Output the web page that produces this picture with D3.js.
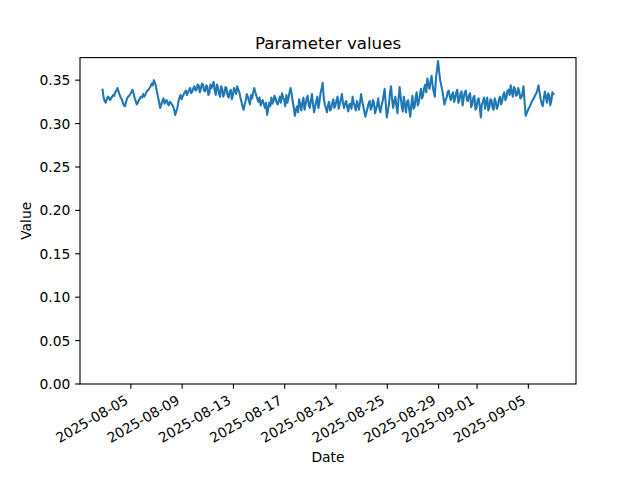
<!DOCTYPE html>
<html><head><meta charset="utf-8">
<script src="https://cdn.jsdelivr.net/npm/d3@7"></script>
<style>body{margin:0;background:#fff}svg{display:block}text{font-family:"DejaVu Sans",sans-serif;fill:#000}</style>
</head><body>
<svg id="c" width="640" height="480"></svg>
<script>
// Data: 2-hourly samples starting 2025-08-02 19:00
const startTime = "2025-08-02T19:00:00";
const stepHours = 2;
const values = [
0.339,0.330,0.326,0.324,0.328,0.331,0.330,0.327,0.329,0.331,
0.333,0.332,0.336,0.338,0.341,0.337,0.333,0.330,0.328,0.324,
0.321,0.320,0.325,0.329,0.331,0.332,0.334,0.336,0.339,0.335,
0.330,0.326,0.322,0.324,0.327,0.329,0.331,0.330,0.334,0.331,
0.333,0.336,0.338,0.339,0.341,0.343,0.346,0.344,0.350,0.347,
0.343,0.336,0.330,0.324,0.318,0.322,0.326,0.329,0.323,0.326,
0.327,0.323,0.321,0.325,0.324,0.322,0.320,0.316,0.310,0.314,
0.318,0.325,0.330,0.333,0.328,0.331,0.334,0.336,0.338,0.333,
0.336,0.339,0.341,0.335,0.337,0.341,0.343,0.338,0.339,0.345,
0.344,0.336,0.340,0.346,0.345,0.338,0.337,0.344,0.343,0.333,
0.335,0.345,0.341,0.344,0.348,0.338,0.333,0.345,0.342,0.334,
0.331,0.343,0.340,0.331,0.334,0.342,0.341,0.332,0.330,0.337,
0.339,0.328,0.333,0.341,0.338,0.334,0.343,0.339,0.336,0.330,
0.325,0.320,0.316,0.322,0.327,0.334,0.331,0.326,0.322,0.333,
0.329,0.336,0.341,0.336,0.332,0.328,0.325,0.330,0.321,0.325,
0.327,0.322,0.318,0.324,0.310,0.317,0.324,0.320,0.330,0.323,
0.326,0.332,0.329,0.324,0.322,0.327,0.331,0.324,0.335,0.330,
0.327,0.320,0.333,0.324,0.329,0.336,0.341,0.334,0.325,0.318,
0.309,0.316,0.320,0.313,0.328,0.322,0.315,0.324,0.330,0.316,
0.322,0.329,0.332,0.321,0.318,0.327,0.334,0.322,0.313,0.320,
0.326,0.331,0.318,0.325,0.335,0.340,0.347,0.330,0.322,0.318,
0.313,0.321,0.325,0.315,0.317,0.324,0.328,0.318,0.321,0.327,
0.331,0.317,0.322,0.328,0.334,0.324,0.318,0.323,0.326,0.319,
0.314,0.322,0.323,0.317,0.331,0.324,0.320,0.315,0.326,0.322,
0.316,0.325,0.334,0.326,0.320,0.314,0.308,0.313,0.318,0.323,
0.326,0.316,0.319,0.327,0.324,0.312,0.316,0.322,0.329,0.318,
0.313,0.320,0.325,0.332,0.340,0.324,0.307,0.314,0.322,0.335,
0.343,0.328,0.318,0.326,0.331,0.320,0.312,0.328,0.342,0.331,
0.320,0.314,0.331,0.322,0.313,0.325,0.327,0.316,0.308,0.322,
0.332,0.317,0.319,0.330,0.336,0.321,0.325,0.333,0.340,0.329,
0.333,0.341,0.345,0.336,0.352,0.345,0.340,0.349,0.355,0.343,
0.336,0.331,0.352,0.362,0.372,0.360,0.350,0.344,0.338,0.330,
0.322,0.327,0.330,0.336,0.338,0.331,0.327,0.333,0.336,0.325,
0.329,0.336,0.339,0.324,0.327,0.335,0.337,0.321,0.330,0.336,
0.338,0.327,0.326,0.333,0.335,0.319,0.322,0.330,0.332,0.316,
0.318,0.327,0.329,0.320,0.307,0.322,0.325,0.330,0.317,0.326,
0.330,0.315,0.319,0.328,0.327,0.318,0.316,0.329,0.325,0.317,
0.320,0.328,0.331,0.322,0.326,0.333,0.336,0.327,0.330,0.338,
0.339,0.333,0.344,0.336,0.331,0.342,0.340,0.332,0.333,0.341,
0.337,0.329,0.330,0.335,0.343,0.325,0.309,0.312,0.315,0.318,
0.320,0.323,0.326,0.328,0.330,0.333,0.335,0.339,0.344,0.336,
0.328,0.323,0.320,0.329,0.337,0.330,0.324,0.335,0.333,0.321,
0.326,0.336,0.334
];
const xTickDates = ["2025-08-05","2025-08-09","2025-08-13","2025-08-17","2025-08-21","2025-08-25","2025-08-29","2025-09-01","2025-09-05"];
const yTicks = [0.00,0.05,0.10,0.15,0.20,0.25,0.30,0.35];
const titleText = "Parameter values", xLabel = "Date", yLabel = "Value";

const t0 = new Date(startTime).getTime();
const data = values.map((v,i)=>({t:new Date(t0 + i*stepHours*3600e3), v}));

const L=80,R=576,T=57.6,B=384;
const svg = d3.select("#c");
const tMin = data[0].t.getTime(), tMax = data[data.length-1].t.getTime();
const pad = (tMax-tMin)*0.05;
const x = d3.scaleTime().domain([new Date(tMin-pad), new Date(tMax+pad)]).range([L,R]);
const y = d3.scaleLinear().domain([0,0.376]).range([B,T]);

// line
svg.append("path").datum(data)
  .attr("d", d3.line().x(d=>x(d.t)).y(d=>y(d.v)))
  .attr("fill","none").attr("stroke","#1f77b4").attr("stroke-width",2.08)
  .attr("stroke-linejoin","round").attr("stroke-linecap","square");

// frame
svg.append("rect").attr("x",L).attr("y",T).attr("width",R-L).attr("height",B-T)
  .attr("fill","none").attr("stroke","#000").attr("stroke-width",1.11);

// y axis
const fmt = d3.format(".2f");
const yg = svg.append("g");
yTicks.forEach(v=>{
  yg.append("line").attr("x1",L-4.86).attr("x2",L).attr("y1",y(v)).attr("y2",y(v)).attr("stroke","#000").attr("stroke-width",1.11);
  yg.append("text").attr("x",L-9.7).attr("y",y(v)).attr("dy","0.36em").attr("text-anchor","end").attr("font-size","13.89px").text(fmt(v));
});

// x axis
const xg = svg.append("g");
xTickDates.forEach(s=>{
  const d = new Date(s+"T00:00:00");
  const px = x(d);
  xg.append("line").attr("x1",px).attr("x2",px).attr("y1",B).attr("y2",B+4.86).attr("stroke","#000").attr("stroke-width",1.11);
  xg.append("text").attr("transform",`translate(${px-1.6},${B+9.7+0.866*10.8}) rotate(-30)`)
    .attr("text-anchor","end").attr("font-size","13.89px").text(s);
});

// labels
svg.append("text").attr("x",(L+R)/2).attr("y",T-8.3).attr("text-anchor","middle").attr("font-size","16.67px").text(titleText);
svg.append("text").attr("x",(L+R)/2).attr("y",462).attr("text-anchor","middle").attr("font-size","13.89px").text(xLabel);
svg.append("text").attr("transform",`translate(31,${(T+B)/2}) rotate(-90)`).attr("text-anchor","middle").attr("font-size","13.89px").text(yLabel);
</script>
</body></html>
